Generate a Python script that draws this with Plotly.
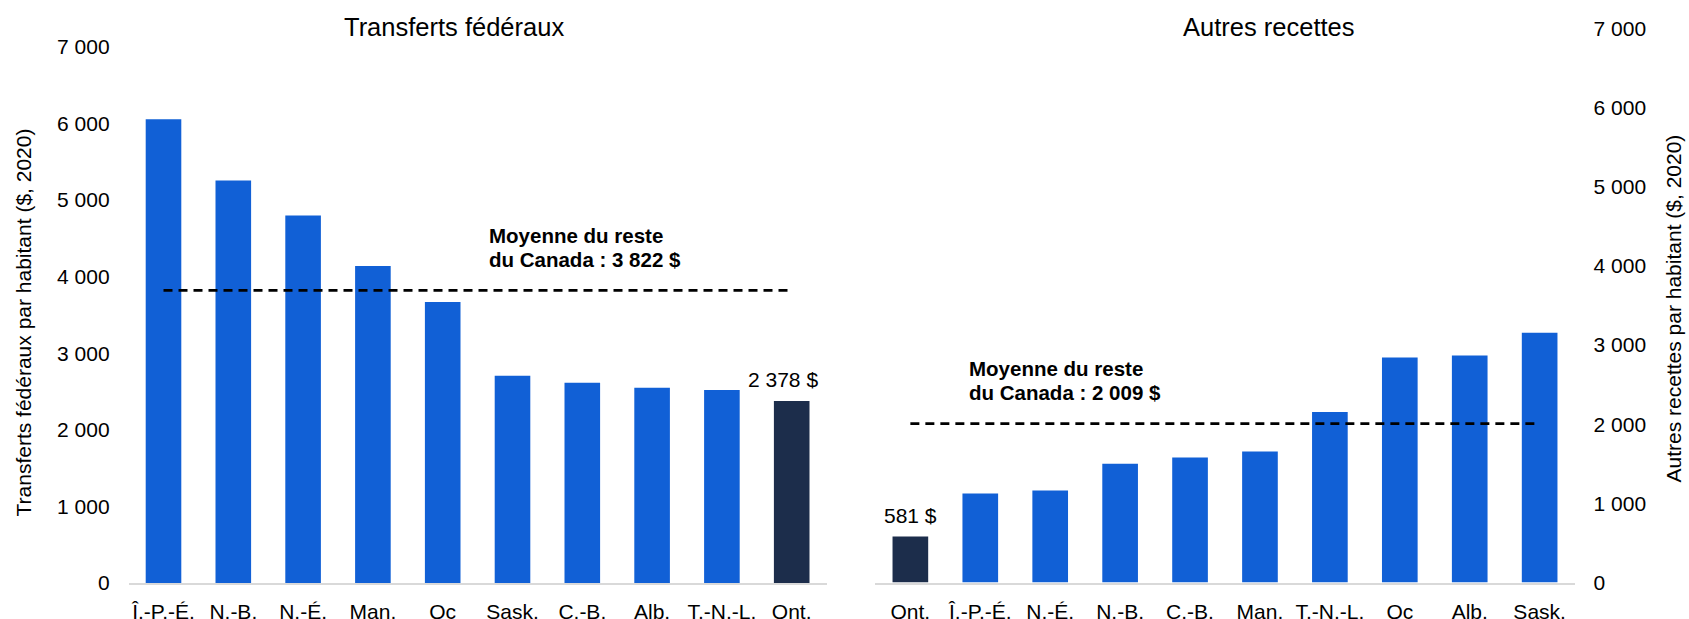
import plotly.graph_objects as go

# ---- data ----
cats_left = ["Î.-P.-É.", "N.-B.", "N.-É.", "Man.", "Qc", "Sask.", "C.-B.", "Alb.", "T.-N.-L.", "Ont."]
vals_left = [6056, 5257, 4798, 4140, 3670, 2707, 2615, 2551, 2520, 2378]
mean_left = 3822

cats_right = ["Ont.", "Î.-P.-É.", "N.-É.", "N.-B.", "C.-B.", "Man.", "T.-N.-L.", "Qc", "Alb.", "Sask."]
vals_right = [581, 1124, 1162, 1500, 1580, 1656, 2155, 2843, 2869, 3156]
mean_right = 2009

highlight = "Ont."
y_tickvals = [0, 1000, 2000, 3000, 4000, 5000, 6000, 7000]
y_ticktext = ["0", "1 000", "2 000", "3 000", "4 000", "5 000", "6 000", "7 000"]

title_left = "Transferts fédéraux"
title_right = "Autres recettes"
ytitle_left = "Transferts fédéraux par habitant ($, 2020)"
ytitle_right = "Autres recettes par habitant ($, 2020)"
mean_text_left = ["Moyenne du reste", "du Canada : 3 822 $"]
mean_text_right = ["Moyenne du reste", "du Canada : 2 009 $"]
label_left = "2 378 $"
label_right = "581 $"

# ---- style ----
BLUE = "#1160D6"
NAVY = "#1C2D4B"
FONT = "Liberation Sans, Arial, sans-serif"
W, H = 1689, 619


def px_x(p):
    return p / W


def px_y(p):
    return 1 - p / H


colors_left = [NAVY if c == highlight else BLUE for c in cats_left]
colors_right = [NAVY if c == highlight else BLUE for c in cats_right]

fig = go.Figure()
fig.add_trace(go.Bar(x=cats_left, y=vals_left, marker=dict(color=colors_left, line=dict(width=0)),
                     xaxis="x", yaxis="y", showlegend=False, hoverinfo="x+y"))
fig.add_trace(go.Scatter(x=[cats_left[0], cats_left[-1]], y=[mean_left, mean_left], mode="lines",
                         line=dict(color="black", width=2.75, dash="9px,6px"),
                         xaxis="x", yaxis="y", showlegend=False))
fig.add_trace(go.Bar(x=cats_right, y=vals_right, marker=dict(color=colors_right, line=dict(width=0)),
                     xaxis="x2", yaxis="y2", showlegend=False, hoverinfo="x+y"))
fig.add_trace(go.Scatter(x=[cats_right[0], cats_right[-1]], y=[mean_right, mean_right], mode="lines",
                         line=dict(color="black", width=2.75, dash="9px,6px"),
                         xaxis="x2", yaxis="y2", showlegend=False))

xcommon = dict(type="category", showgrid=False, zeroline=False, showline=True,
               linecolor="#D9D9D9", linewidth=2, ticks="", ticklabelstandoff=9,
               tickfont=dict(family=FONT, size=21, color="black"), automargin=False)
ycommon = dict(range=[0, 7000], tickvals=y_tickvals, ticktext=y_ticktext, showgrid=False,
               zeroline=False, showline=False, ticks="", ticklabelstandoff=18,
               tickfont=dict(family=FONT, size=21, color="black"), automargin=False)

fig.update_layout(
    width=W, height=H,
    margin=dict(l=0, r=0, t=0, b=0),
    paper_bgcolor="white", plot_bgcolor="white",
    bargap=0.49,
    font=dict(family=FONT, color="black"),
    xaxis=dict(domain=[px_x(128.6), px_x(826.6)], anchor="y", **xcommon),
    yaxis=dict(domain=[px_y(583), px_y(47)], anchor="x", side="left", **ycommon),
    xaxis2=dict(domain=[px_x(875.4), px_x(1574.6)], anchor="y2", **xcommon),
    yaxis2=dict(domain=[px_y(582.5), px_y(28.5)], anchor="x2", side="right", **ycommon),
)

ann = []
# panel titles
ann.append(dict(text=title_left, x=px_x(454), y=px_y(27), xref="paper", yref="paper",
                xanchor="center", yanchor="middle", showarrow=False,
                font=dict(family=FONT, size=25.5, color="black")))
ann.append(dict(text=title_right, x=px_x(1268.5), y=px_y(27), xref="paper", yref="paper",
                xanchor="center", yanchor="middle", showarrow=False,
                font=dict(family=FONT, size=25.5, color="black")))
# axis titles
ann.append(dict(text=ytitle_left, x=px_x(23), y=px_y(322.5), xref="paper", yref="paper",
                xanchor="center", yanchor="middle", textangle=-90, showarrow=False,
                font=dict(family=FONT, size=21, color="black")))
ann.append(dict(text=ytitle_right, x=px_x(1673), y=px_y(308.5), xref="paper", yref="paper",
                xanchor="center", yanchor="middle", textangle=-90, showarrow=False,
                font=dict(family=FONT, size=21, color="black")))
# mean annotations
for t, yy in zip(mean_text_left, [235, 259.5]):
    ann.append(dict(text="<b>%s</b>" % t, x=px_x(487), y=px_y(yy), xref="paper", yref="paper",
                    xanchor="left", yanchor="middle", showarrow=False,
                    font=dict(family=FONT, size=20.5, color="black")))
for t, yy in zip(mean_text_right, [368, 392]):
    ann.append(dict(text="<b>%s</b>" % t, x=px_x(967), y=px_y(yy), xref="paper", yref="paper",
                    xanchor="left", yanchor="middle", showarrow=False,
                    font=dict(family=FONT, size=20.5, color="black")))
# data labels
ann.append(dict(text=label_left, x=highlight, y=vals_left[cats_left.index(highlight)],
                xref="x", yref="y", xanchor="center", yanchor="middle", yshift=21, xshift=-9,
                showarrow=False, font=dict(family=FONT, size=21, color="black")))
ann.append(dict(text=label_right, x=highlight, y=vals_right[cats_right.index(highlight)],
                xref="x2", yref="y2", xanchor="center", yanchor="middle", yshift=21,
                showarrow=False, font=dict(family=FONT, size=21, color="black")))
fig.update_layout(annotations=ann)

fig.write_html(
    "out.html",
    config={"displayModeBar": False},
    post_script="document.body.style.margin='0';document.body.style.padding='0';"
                "document.body.style.overflow='hidden';",
)
